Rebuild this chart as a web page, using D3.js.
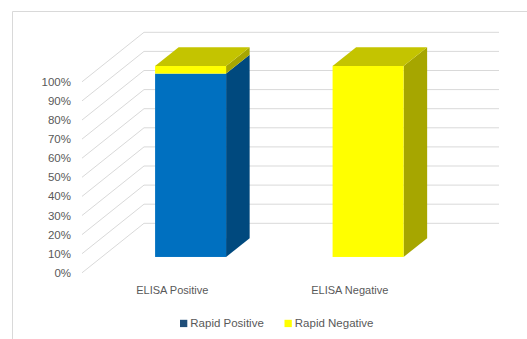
<!DOCTYPE html>
<html>
<head>
<meta charset="utf-8">
<script src="https://cdn.jsdelivr.net/npm/d3@7"></script>
<style>
  html, body { margin: 0; padding: 0; background: #fff; }
  svg { display: block; }
  text { font-family: "Liberation Sans", Arial, sans-serif; fill: #595959; }
</style>
</head>
<body>
<svg id="chart" width="527" height="339"></svg>
<script>
// Share of rapid test results (%) within each ELISA group
const categories = ["ELISA Positive", "ELISA Negative"];
const rapidPositive = [96, 0];
const rapidNegative = [4, 100];
const seriesNames = ["Rapid Positive", "Rapid Negative"];
const yTicks = [0, 10, 20, 30, 40, 50, 60, 70, 80, 90, 100];
const yTickLabels = ["0%", "10%", "20%", "30%", "40%", "50%", "60%", "70%", "80%", "90%", "100%"];

const svg = d3.select("#chart");

// faces for each series: front, side, top
const palette = {
  "Rapid Positive": { front: "#0070C0", side: "#00497E", top: "#00589A", legend: "#1F4E79" },
  "Rapid Negative": { front: "#FFFF00", side: "#A6A600", top: "#C4C400", legend: "#FFFF00" }
};

// chart border
svg.append("path")
  .attr("d", "M12.5,339 V11.5 H527")
  .attr("fill", "none")
  .attr("stroke", "#D9D9D9")
  .attr("stroke-width", 1);

// back wall scales; depth runs from the back wall (0) to the front edge (1)
const x = d3.scaleBand().domain(categories).range([144, 499]).paddingInner(0.6).paddingOuter(0.3);
const y = d3.scaleLinear().domain([0, 100]).range([223.3, 32.3]);
const depthDX = -62, depthDY = 49.5;
const P = (px, v, d) => [px + d * depthDX, y(v) + d * depthDY];

const grid = svg.append("g").attr("stroke", "#D9D9D9").attr("stroke-width", 1).attr("fill", "none");
yTicks.forEach(t => {
  const [bx, by] = P(x.range()[0], t, 0);
  const [fx, fy] = P(x.range()[0], t, 1);
  grid.append("line").attr("x1", fx).attr("y1", fy).attr("x2", bx).attr("y2", by);
  grid.append("line").attr("x1", bx).attr("y1", by).attr("x2", x.range()[1]).attr("y2", by);
});

// value axis labels along the front-left edge
svg.append("g").selectAll("text").data(yTicks).join("text")
  .attr("x", 71)
  .attr("y", (t) => P(0, t, 1)[1] + 1)
  .attr("text-anchor", "end")
  .attr("dominant-baseline", "middle")
  .attr("font-size", 11.5)
  .text((t, i) => yTickLabels[i]);

// stacked 3D columns
const table = categories.map((c, i) => ({ category: c, "Rapid Positive": rapidPositive[i], "Rapid Negative": rapidNegative[i] }));
const stacked = d3.stack().keys(seriesNames)(table);
const d0 = 0.3, d1 = 0.68;
const poly = pts => "M" + pts.map(p => p.join(",")).join("L") + "Z";

const bars = svg.append("g");
categories.forEach((c, i) => {
  const xl = x(c), xr = x(c) + x.bandwidth();
  const segs = stacked.map(s => ({ key: s.key, v0: s[i][0], v1: s[i][1] })).filter(s => s.v1 > s.v0);
  segs.forEach((s, k) => {
    const col = palette[s.key];
    // side face
    bars.append("path")
      .attr("d", poly([P(xr, s.v1, d1), P(xr, s.v1, d0), P(xr, s.v0, d0), P(xr, s.v0, d1)]))
      .attr("fill", col.side);
    // front face
    const [fx0, fyTop] = P(xl, s.v1, d1);
    const [fx1, fyBot] = P(xr, s.v0, d1);
    bars.append("rect")
      .attr("x", fx0).attr("y", fyTop)
      .attr("width", fx1 - fx0).attr("height", fyBot - fyTop)
      .attr("fill", col.front);
    // top face on the highest segment
    if (k === segs.length - 1) {
      bars.append("path")
        .attr("d", poly([P(xl, s.v1, d1), P(xr, s.v1, d1), P(xr, s.v1, d0), P(xl, s.v1, d0)]))
        .attr("fill", col.top);
    }
  });
});

// category labels on the front edge of the floor
svg.append("g").selectAll("text").data(categories).join("text")
  .attr("x", c => P(x(c) + x.bandwidth() / 2, 0, 1)[0] + 1.5)
  .attr("y", 294)
  .attr("text-anchor", "middle")
  .attr("font-size", 11)
  .text(c => c);

// legend
const legend = svg.append("g");
const legendX = [180, 284.5];
seriesNames.forEach((s, i) => {
  legend.append("rect")
    .attr("x", legendX[i]).attr("y", 319.8)
    .attr("width", 7.3).attr("height", 7.3)
    .attr("fill", palette[s].legend);
  legend.append("text")
    .attr("x", legendX[i] + 10.3).attr("y", 327.3)
    .attr("font-size", 11.5)
    .text(s);
});
</script>
</body>
</html>
